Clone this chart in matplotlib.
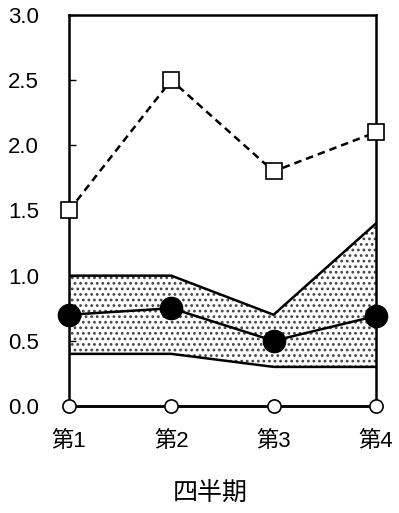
import matplotlib
matplotlib.use("Agg")
import matplotlib.pyplot as plt

plt.rcParams['font.family'] = ['Liberation Sans', 'Noto Sans CJK JP', 'DejaVu Sans']
plt.rcParams['hatch.linewidth'] = 1.2

quarters = ['第1', '第2', '第3', '第4']
upper = [1.0, 1.0, 0.7, 1.4]
lower = [0.4, 0.4, 0.3, 0.3]
mean = [0.7, 0.75, 0.5, 0.69]
dashed = [1.5, 2.5, 1.8, 2.1]
zero = [0.0, 0.0, 0.0, 0.0]

fig = plt.figure(figsize=(3.99, 5.13), dpi=100)
ax = fig.add_axes([0.173, 0.2086, 0.769, 0.7622])
x = list(range(len(quarters)))

ax.fill_between(x, lower, upper, facecolor='white', edgecolor='#444444',
                hatch='...', linewidth=0, zorder=1)
ax.plot(x, upper, color='black', lw=1.8, zorder=2)
ax.plot(x, lower, color='black', lw=1.8, zorder=2)
ax.plot(x, mean, color='black', lw=1.8, marker='o', ms=16,
        markerfacecolor='black', zorder=4, clip_on=False)
ax.plot(x, dashed, color='black', lw=1.8, ls=(0, (3, 2)), marker='s', ms=11,
        markerfacecolor='white', markeredgewidth=1.2, zorder=4, clip_on=False)
ax.plot(x, zero, color='black', lw=1.8, marker='o', ms=9.5,
        markerfacecolor='white', markeredgewidth=1.2, zorder=4, clip_on=False)

ax.set_xlim(0, 3)
ax.set_ylim(0, 3.0)
ax.set_yticks([0, 0.5, 1.0, 1.5, 2.0, 2.5, 3.0])
ax.set_yticklabels(['0.0', '0.5', '1.0', '1.5', '2.0', '2.5', '3.0'])
ax.set_xticks(x)
ax.set_xticklabels(quarters)
ax.tick_params(axis='y', direction='in', length=5, width=1, labelsize=16, pad=44)
ax.tick_params(axis='x', length=0, labelsize=16, pad=18)
for lbl in ax.get_yticklabels():
    lbl.set_horizontalalignment('left')
for s in ax.spines.values():
    s.set_linewidth(1.8)
ax.set_xlabel('四半期', fontsize=18)
ax.xaxis.set_label_coords(0.459, -0.195)

fig.savefig('out.png', dpi=100)
